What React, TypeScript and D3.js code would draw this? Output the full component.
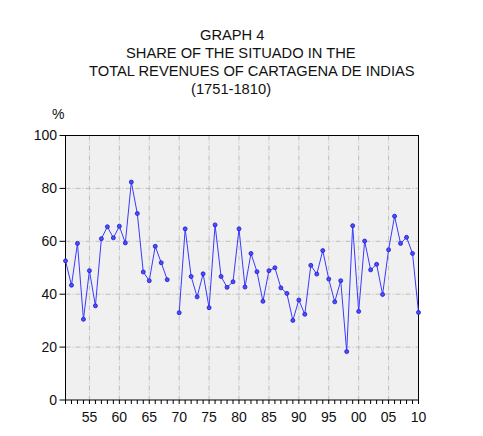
import { useMemo } from 'react'
import * as d3 from 'd3'

// Years 1751-1810, share of the situado in total revenues (%); 1769 has no data
const years = d3.range(1751, 1811)
const shares: (number | null)[] = [
  52.6, 43.4, 59.2, 30.5, 48.9, 35.6, 61.0, 65.5, 61.3, 65.7,
  59.4, 82.4, 70.5, 48.4, 45.1, 58.1, 51.9, 45.5, null, 33.0,
  64.7, 46.7, 39.0, 47.7, 34.9, 66.2, 46.7, 42.6, 44.7, 64.7,
  42.7, 55.4, 48.5, 37.3, 48.9, 50.0, 42.4, 40.3, 30.1, 37.8,
  32.4, 50.9, 47.6, 56.5, 45.7, 37.1, 45.1, 18.3, 65.9, 33.5,
  60.1, 49.2, 51.3, 39.9, 56.8, 69.5, 59.2, 61.5, 55.4, 33.1,
]
const yTicks = [0, 20, 40, 60, 80, 100]
const xLabelYears = [1755, 1760, 1765, 1770, 1775, 1780, 1785, 1790, 1795, 1800, 1805, 1810]

const titleLines = [
  { text: 'GRAPH 4', x: 200, y: 40 },
  { text: 'SHARE OF THE SITUADO IN THE', x: 126, y: 58 },
  { text: 'TOTAL REVENUES OF CARTAGENA DE INDIAS', x: 89, y: 76 },
  { text: '(1751-1810)', x: 191, y: 94 },
]

const W = 483
const H = 436
const plot = { left: 65.5, right: 418.5, top: 135.5, bottom: 400 }
const font = '"Liberation Sans", Arial, sans-serif'

export default function App() {
  const x = useMemo(() => d3.scaleLinear().domain([1751, 1810]).range([plot.left, plot.right]), [])
  const y = useMemo(() => d3.scaleLinear().domain([0, 100]).range([plot.bottom, plot.top]), [])

  const points = years.map((yr, i) => ({ yr, v: shares[i] }))
  const line = d3.line<{ yr: number; v: number | null }>()
    .defined(d => d.v !== null)
    .x(d => x(d.yr))
    .y(d => y(d.v as number))

  const gridStyle = { stroke: '#bdbdbd', strokeWidth: 1, strokeDasharray: '5,2,1,2' }

  return (
    <svg width={W} height={H} style={{ position: 'absolute', left: 0, top: 0, background: '#fff' }}
      fontFamily={font}>
      {/* title */}
      {titleLines.map(t => (
        <text key={t.text} x={t.x} y={t.y} fontSize={14.7} fill="#111">{t.text}</text>
      ))}
      <text x={52} y={119} fontSize={14} fill="#111">%</text>

      {/* plot background */}
      <rect x={plot.left} y={plot.top} width={plot.right - plot.left} height={plot.bottom - plot.top} fill="#f0f0f0" />

      {/* grid */}
      {yTicks.filter(t => t > 0 && t < 100).map(t => (
        <line key={'gy' + t} x1={plot.left} x2={plot.right} y1={y(t)} y2={y(t)} {...gridStyle} />
      ))}
      {xLabelYears.filter(t => t < 1810).map(t => (
        <line key={'gx' + t} x1={x(t)} x2={x(t)} y1={plot.top} y2={plot.bottom} {...gridStyle} />
      ))}

      {/* frame */}
      <rect x={plot.left} y={plot.top} width={plot.right - plot.left} height={plot.bottom - plot.top}
        fill="none" stroke="#000" strokeWidth={1} />

      {/* y axis ticks */}
      {yTicks.map(t => (
        <g key={'yt' + t}>
          <line x1={plot.left - 6} x2={plot.left} y1={y(t)} y2={y(t)} stroke="#000" />
          <text x={57} y={y(t)} dy="0.35em" textAnchor="end" fontSize={14} fill="#111">{t}</text>
        </g>
      ))}

      {/* x axis minor ticks and labels */}
      {years.map(yr => (
        <line key={'xt' + yr} x1={x(yr)} x2={x(yr)} y1={plot.bottom} y2={plot.bottom + 4} stroke="#000" />
      ))}
      {xLabelYears.map(yr => (
        <text key={'xl' + yr} x={x(yr)} y={421.5} textAnchor="middle" fontSize={14} fill="#111">
          {String(yr % 100).padStart(2, '0')}
        </text>
      ))}

      {/* series */}
      <path d={line(points) || ''} fill="none" stroke="#3a3aff" strokeWidth={1} />
      {points.filter(p => p.v !== null).map(p => (
        <circle key={'p' + p.yr} cx={x(p.yr)} cy={y(p.v as number)} r={2}
          fill="#4d4dff" stroke="#1a1acc" strokeWidth={0.8} />
      ))}
    </svg>
  )
}
